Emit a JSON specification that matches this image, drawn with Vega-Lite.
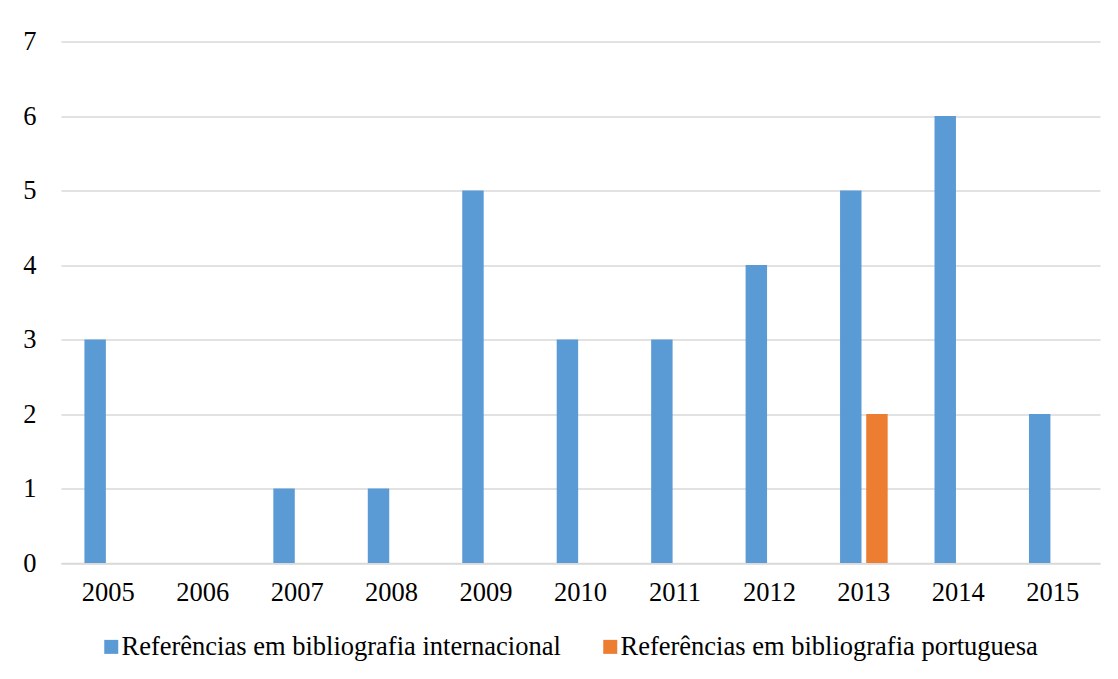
{
  "$schema": "https://vega.github.io/schema/vega-lite/v6.json",
  "width": 1039,
  "height": 521.5,
  "autosize": "none",
  "padding": {"left": 61, "top": 41.5, "right": 18, "bottom": 116},
  "background": "white",
  "data": {
    "values": [
      {"ano": "2005", "serie": "Referências em bibliografia internacional", "valor": 3},
      {"ano": "2005", "serie": "Referências em bibliografia portuguesa", "valor": 0},
      {"ano": "2006", "serie": "Referências em bibliografia internacional", "valor": 0},
      {"ano": "2006", "serie": "Referências em bibliografia portuguesa", "valor": 0},
      {"ano": "2007", "serie": "Referências em bibliografia internacional", "valor": 1},
      {"ano": "2007", "serie": "Referências em bibliografia portuguesa", "valor": 0},
      {"ano": "2008", "serie": "Referências em bibliografia internacional", "valor": 1},
      {"ano": "2008", "serie": "Referências em bibliografia portuguesa", "valor": 0},
      {"ano": "2009", "serie": "Referências em bibliografia internacional", "valor": 5},
      {"ano": "2009", "serie": "Referências em bibliografia portuguesa", "valor": 0},
      {"ano": "2010", "serie": "Referências em bibliografia internacional", "valor": 3},
      {"ano": "2010", "serie": "Referências em bibliografia portuguesa", "valor": 0},
      {"ano": "2011", "serie": "Referências em bibliografia internacional", "valor": 3},
      {"ano": "2011", "serie": "Referências em bibliografia portuguesa", "valor": 0},
      {"ano": "2012", "serie": "Referências em bibliografia internacional", "valor": 4},
      {"ano": "2012", "serie": "Referências em bibliografia portuguesa", "valor": 0},
      {"ano": "2013", "serie": "Referências em bibliografia internacional", "valor": 5},
      {"ano": "2013", "serie": "Referências em bibliografia portuguesa", "valor": 2},
      {"ano": "2014", "serie": "Referências em bibliografia internacional", "valor": 6},
      {"ano": "2014", "serie": "Referências em bibliografia portuguesa", "valor": 0},
      {"ano": "2015", "serie": "Referências em bibliografia internacional", "valor": 2},
      {"ano": "2015", "serie": "Referências em bibliografia portuguesa", "valor": 0}
    ]
  },
  "mark": {"type": "bar"},
  "encoding": {
    "x": {
      "field": "ano", "type": "ordinal", "title": null,
      "scale": {"paddingInner": 0.496, "paddingOuter": 0.248},
      "axis": {"labelAngle": 0, "ticks": false, "domain": true, "domainColor": "#d9d9d9", "domainWidth": 1.5, "labelPadding": 16, "grid": false}
    },
    "xOffset": {
      "field": "serie", "type": "nominal",
      "scale": {"paddingInner": 0.18, "paddingOuter": 0}
    },
    "y": {
      "field": "valor", "type": "quantitative", "title": null,
      "scale": {"domain": [0, 7], "nice": false},
      "axis": {"values": [0, 1, 2, 3, 4, 5, 6, 7], "ticks": false, "domain": false, "labelPadding": 25, "grid": true, "gridColor": "#d9d9d9", "gridWidth": 1.5, "format": "d"}
    },
    "color": {
      "field": "serie", "type": "nominal", "title": null,
      "scale": {"range": ["#5B9BD5", "#ED7D31"]},
      "legend": {
        "orient": "none", "direction": "horizontal", "legendX": 37, "legendY": 592,
        "padding": 0, "offset": 0,
        "symbolType": "square", "symbolSize": 196, "symbolStrokeWidth": 0,
        "labelOffset": -3, "columnPadding": 36, "labelLimit": 700,
        "labelFontSize": 26.5, "labelFont": "Liberation Serif", "labelColor": "black"
      }
    }
  },
  "config": {
    "view": {"stroke": null},
    "axis": {"labelFont": "Liberation Serif", "labelFontSize": 26.5, "labelColor": "black"}
  }
}
